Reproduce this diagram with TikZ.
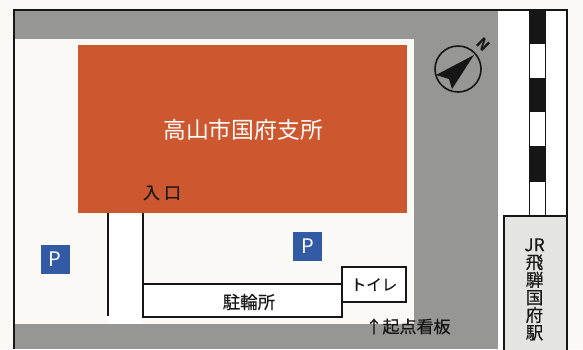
\documentclass[tikz,border=0pt]{standalone}
\usepackage{fontspec}
\setmainfont{Noto Sans CJK JP}
\newfontfamily\heavier[FakeBold=0.35]{Noto Sans CJK JP}
\definecolor{paper}{RGB}{250,249,246}
\definecolor{roadgrey}{RGB}{150,150,148}
\definecolor{hall}{RGB}{205,88,48}
\definecolor{pblue}{RGB}{50,90,165}
\definecolor{station}{RGB}{228,228,224}
\definecolor{ink}{RGB}{22,22,22}
\tikzset{
  wall/.style={draw=ink,line width=1.3pt},
  pmark/.style={fill=pblue,text=white,minimum width=29pt,minimum height=29pt,inner sep=0pt,font=\fontsize{20}{20}\selectfont},
  rail/.style={fill=ink,draw=none},
  labelt/.style={text=ink,inner sep=0pt}
}
\begin{document}
\begin{tikzpicture}[x=1pt,y=-1pt]
\useasboundingbox (0,0) rectangle (583,349);
\clip (0,0) rectangle (583,349);
\fill[paper] (0,0) rectangle (583,349);
% road and lot
\fill[roadgrey] (14,11) rectangle (498,349);
\fill[paper] (14,39) rectangle (414,324);
\fill[white] (498,11) rectangle (567,349);
% building
\node[fill=hall,minimum width=329pt,minimum height=168pt,inner sep=0pt] (hall) at (242.5,129) {};
\node[text=white,inner sep=0pt,font=\fontsize{22.8}{23}\selectfont] (hallname) at (243,130) {高山市国府支所};
\node[labelt,font=\heavier\fontsize{17}{17}\selectfont] (entry) at (162,193) {入\hspace{4pt}口};
% railway
\fill[rail] (529,11) rectangle (545,44);
\fill[rail] (529,78) rectangle (545,112);
\fill[rail] (529,146) rectangle (545,182);
\draw[draw=ink,line width=1pt] (529,11) -- (529,216) (545,11) -- (545,216);
% frame
\draw[wall,line width=1.6pt] (14,349) -- (14,10) -- (567,10) -- (567,349);
% station
\node[draw=ink,line width=1.3pt,fill=station,minimum width=63pt,minimum height=150pt,inner sep=0pt] (stn) at (535.5,291) {};
\node[labelt,font=\heavier\fontsize{17.5}{17.6}\selectfont,align=center] (stnname) at (534.5,289.5) {JR\\飛\\騨\\国\\府\\駅};
% paths
\coordinate (wa) at (108,213);
\coordinate (wb) at (108,316);
\coordinate (wc) at (143,213);
\coordinate (wd) at (143,317);
\node[draw=ink,line width=1.3pt,fill=white,minimum width=64pt,minimum height=35pt,inner sep=0pt,font=\heavier\fontsize{15.5}{16}\selectfont,text=ink] (toilet) at (374,284.5) {トイレ};
\coordinate (te) at (342,284);
\coordinate (tf) at (342,317);
\coordinate (tg) at (143,284);
\fill[white] (108,214) rectangle (143,324);
\fill[white] (143,284) rectangle (342,317);
\draw[wall] (wa) -- (wb);
\draw[wall] (wc) -- (wd) -- (tf) -- (te) -- (tg);
\node[labelt,font=\heavier\fontsize{17.5}{18}\selectfont] (bike) at (249,302) {駐輪所};
\node[pmark] (p1) at (55,259.5) {P};
\node[pmark] (p2) at (307.5,246.5) {P};
\node[labelt,font=\heavier\fontsize{17}{17}\selectfont] (start) at (408,326.5) {↑起点看板};
% compass
\node[circle,draw=ink,line width=1.6pt,minimum size=46pt,inner sep=0pt] (comp) at (458,69) {};
\fill[ink] (474,55) -- (436,75) -- (449,79) -- (452,89) -- cycle;
\node[labelt,rotate=-45,font=\bfseries\fontsize{15}{15}\selectfont] (north) at (483,45) {N};
\end{tikzpicture}
\end{document}
